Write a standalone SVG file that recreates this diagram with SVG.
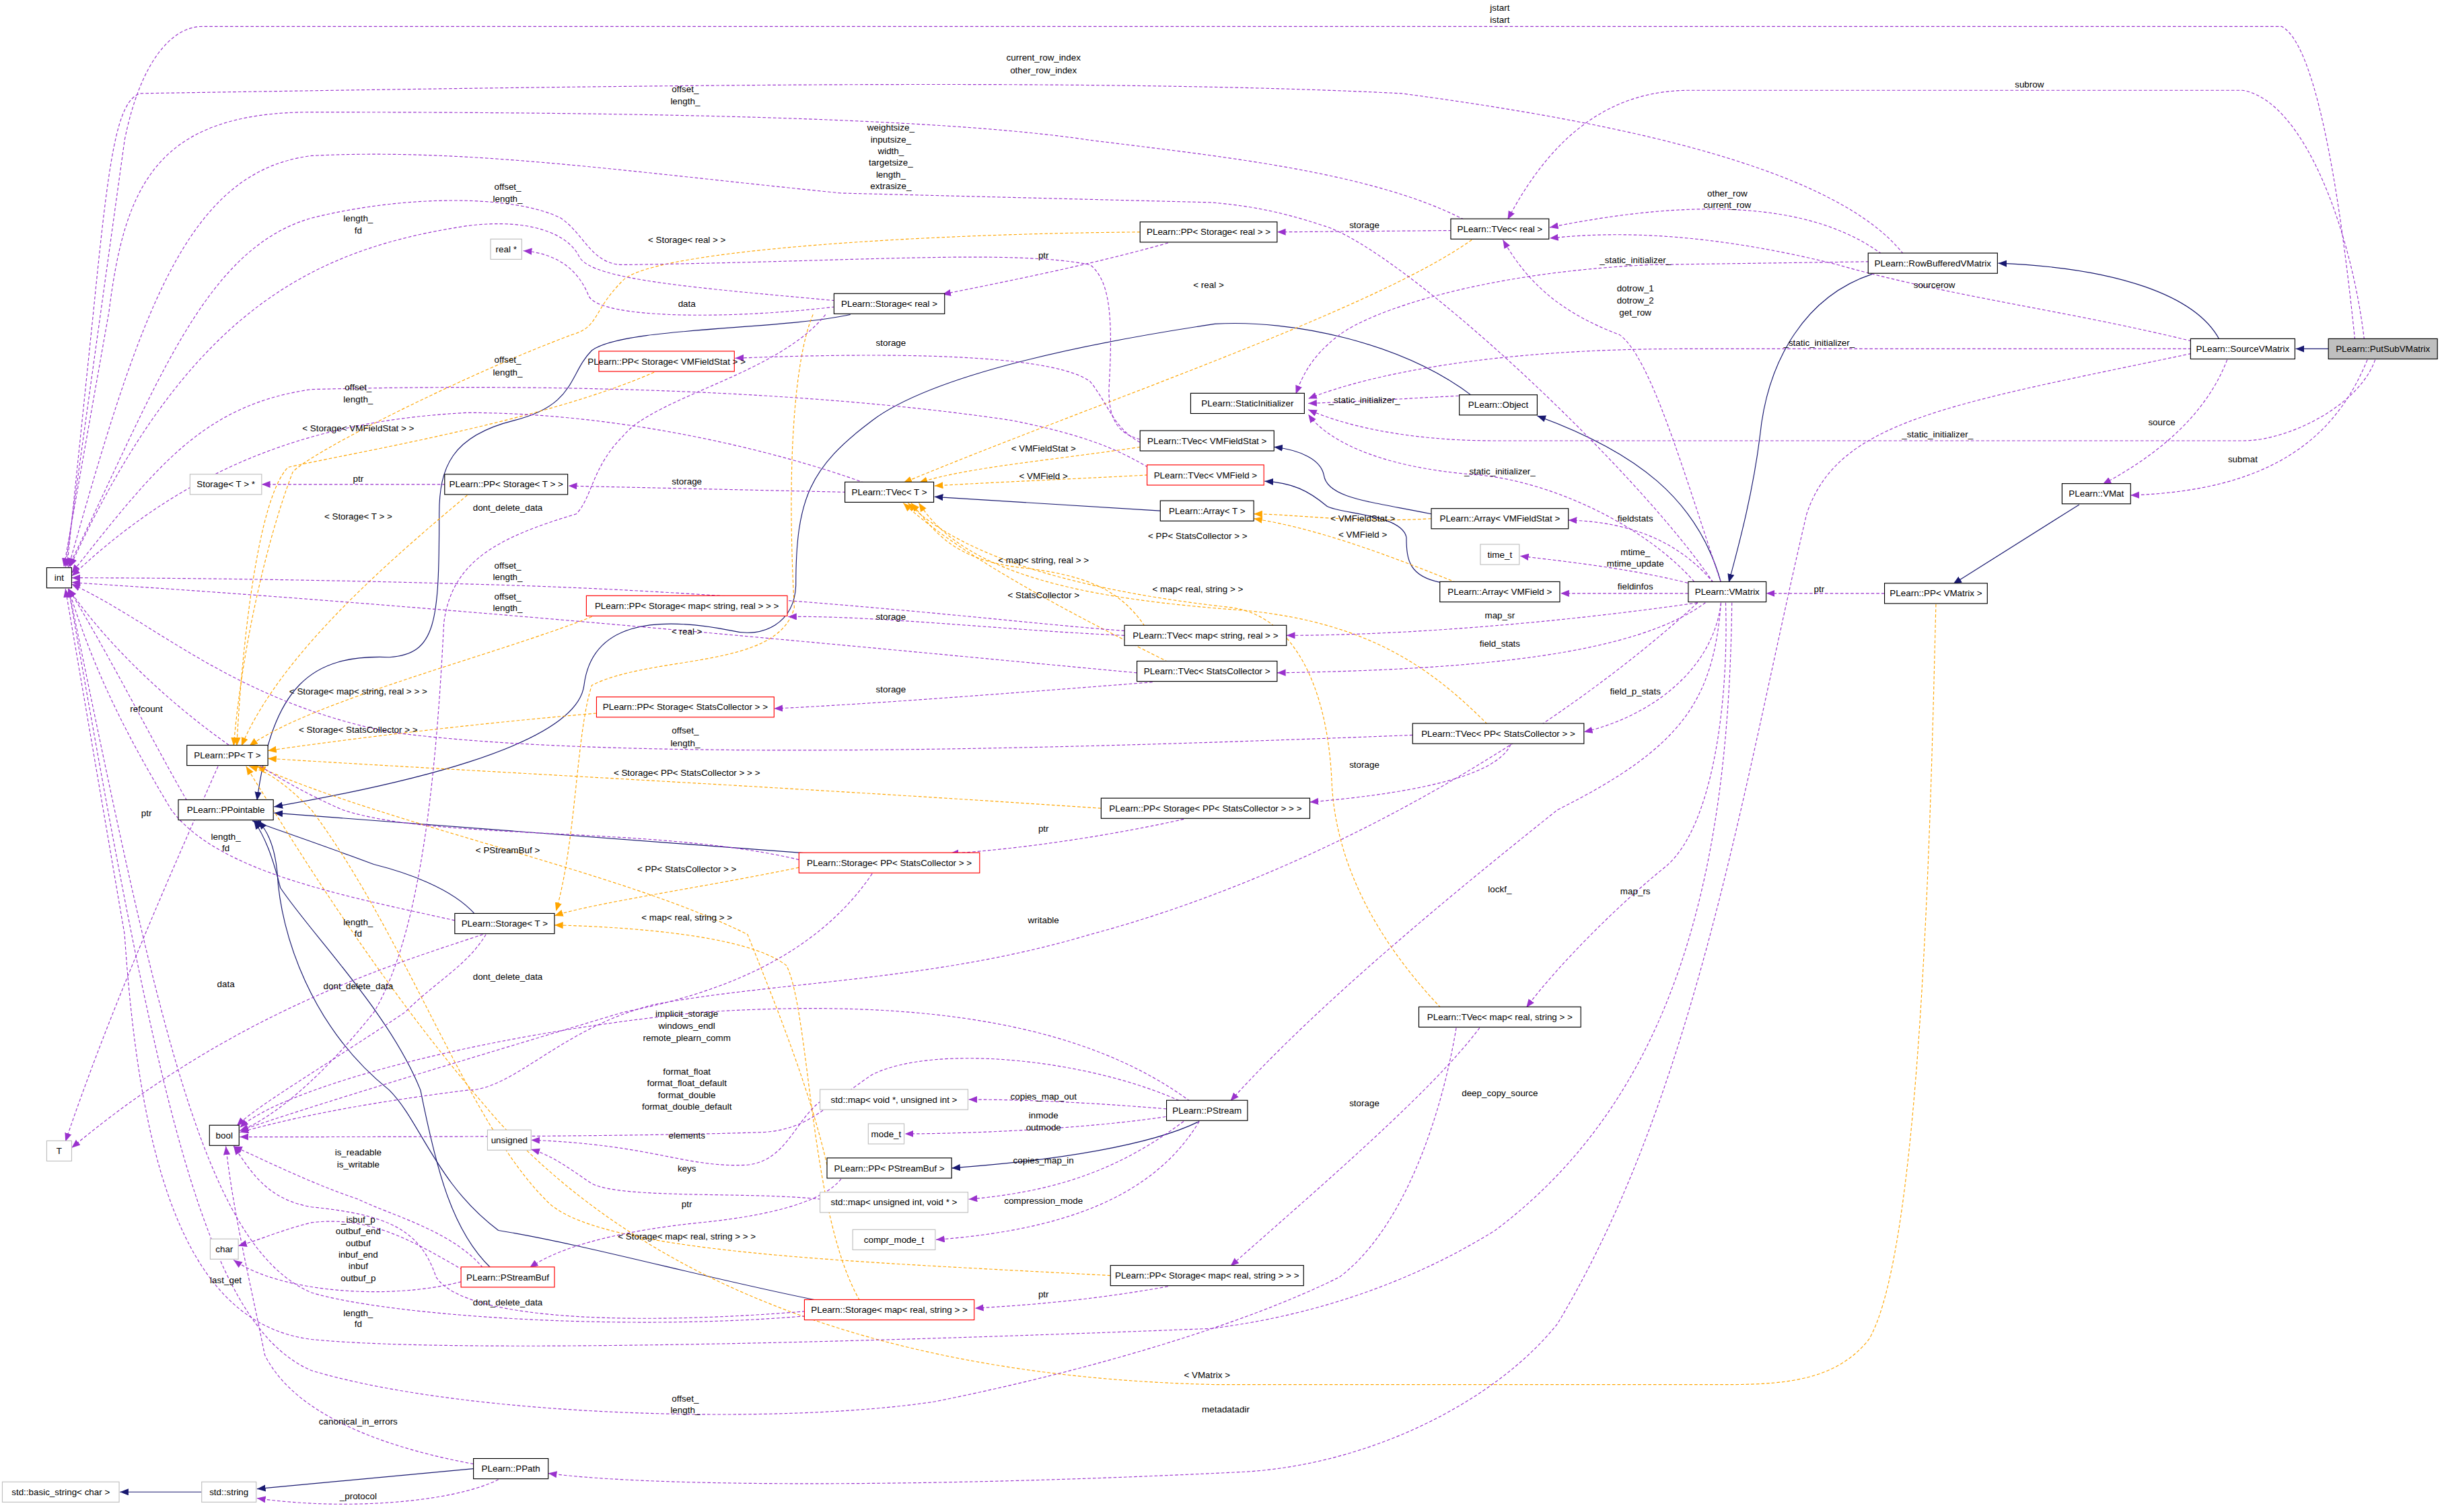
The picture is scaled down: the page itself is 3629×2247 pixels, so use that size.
<svg xmlns="http://www.w3.org/2000/svg" width="3629" height="2247" viewBox="0 0 3629 2247">
<style>
.n rect{fill:#fff;stroke:#000;stroke-width:0.5}
.r rect{stroke:#ff0000}
.g rect{stroke:#bfbfbf}
.s rect{fill:#bfbfbf}
text{font-family:"Liberation Sans Narrow","Liberation Sans",Arial,sans-serif;font-size:5.8px;text-anchor:middle;fill:#000}
.e path{fill:none;stroke-width:0.5}
.m{stroke:#9a32cd;stroke-dasharray:2,1.3;marker-end:url(#am)}
.i{stroke:#191970;marker-end:url(#ai)}
.t{stroke:#ffa500;stroke-dasharray:2,1.3;marker-end:url(#at)}
</style>
<defs>
<marker id="am" markerUnits="userSpaceOnUse" markerWidth="6" markerHeight="5" refX="5.5" refY="2.2" orient="auto"><path d="M0,0 L5.5,2.2 L0,4.4z" fill="#9a32cd"/></marker>
<marker id="ai" markerUnits="userSpaceOnUse" markerWidth="6" markerHeight="5" refX="5.5" refY="2.2" orient="auto"><path d="M0,0 L5.5,2.2 L0,4.4z" fill="#191970"/></marker>
<marker id="at" markerUnits="userSpaceOnUse" markerWidth="6" markerHeight="5" refX="5.5" refY="2.2" orient="auto"><path d="M0,0 L5.5,2.2 L0,4.4z" fill="#ffa500"/></marker>
</defs>
<rect width="3629" height="2247" fill="#fff"/>
<g transform="scale(2.3145)">
<g id="connectors" class="e">
<!-- inheritance -->
<path class="i" d="M1495,224 L1474,224"/>
<path class="i" d="M1425,218 C1410,190 1360,172 1283,169"/>
<path class="i" d="M1202,176 C1160,190 1135,230 1130,280 C1125,320 1115,355 1110,374"/>
<path class="i" d="M1105,374 C1090,320 1050,290 987,267"/>
<path class="i" d="M945,254 C900,220 830,205 780,208 C700,220 600,240 560,270 C520,300 511,320 511,376 C510,400 490,410 470,405 C420,395 380,400 375,440 C370,480 250,505 176,518"/>
<path class="i" d="M546,202 C500,212 400,210 380,225 C365,240 370,260 330,270 C290,280 282,300 282,330 C282,400 280,420 250,422 C200,420 175,440 165,514"/>
<path class="i" d="M305,587 C290,570 260,560 240,555 C200,540 170,530 162,527"/>
<path class="i" d="M520,548 L176,522"/>
<path class="i" d="M525,835 C450,820 380,800 320,790 C280,760 270,720 250,700 C200,660 180,600 178,560 C176,540 170,532 166,527"/>
<path class="i" d="M315,814 C290,790 280,750 270,700 C250,650 200,600 180,570 C175,550 170,537 163,527"/>
<path class="i" d="M1335,324 L1254,375"/>
<path class="i" d="M770,720 C740,735 680,745 611,750"/>
<path class="i" d="M304,943 L165,956"/>
<path class="i" d="M130,958 L77,958"/>
<path class="i" d="M745,328 L600,319"/>
<path class="i" d="M919,330 C880,322 852,320 850,305 C848,295 835,289 818,287"/>
<path class="i" d="M925,374 C905,370 903,360 903,345 C900,330 860,330 852,325 C840,315 830,310 812,309"/>
<!-- templates -->
<path class="t" d="M732,149 C600,150 420,160 400,180 C380,200 385,210 367,215 C300,240 200,290 188,303 C170,350 155,420 150,479"/>
<path class="t" d="M945,154 C880,200 700,260 580,310"/>
<path class="t" d="M420,239 C350,270 230,290 185,300 C165,320 155,420 152,479"/>
<path class="t" d="M732,287 C680,295 620,300 590,310"/>
<path class="t" d="M737,305 C680,308 630,310 600,312"/>
<path class="t" d="M300,318 C250,360 180,420 155,479"/>
<path class="t" d="M919,333 C870,336 830,330 805,330"/>
<path class="t" d="M935,374 C900,360 850,340 805,333"/>
<path class="t" d="M955,465 C920,430 880,400 800,392 C700,385 620,370 590,323"/>
<path class="t" d="M735,402 C720,380 700,370 660,365 C610,360 600,340 585,323"/>
<path class="t" d="M750,425 C700,400 620,360 580,323"/>
<path class="t" d="M925,647 C890,610 857,560 855,500 C852,440 830,395 790,390 C700,380 620,360 583,323"/>
<path class="t" d="M380,396 C320,420 200,450 160,479"/>
<path class="t" d="M383,458 C300,465 220,475 172,482"/>
<path class="t" d="M707,519 C500,505 300,495 172,487"/>
<path class="t" d="M531,748 C520,700 500,650 480,600 C400,560 250,530 165,492"/>
<path class="t" d="M513,557 C450,570 380,580 356,588"/>
<path class="t" d="M522,202 C510,230 505,300 510,390 C500,430 420,420 380,440 C370,470 370,540 357,585"/>
<path class="t" d="M552,835 C520,780 520,650 505,620 C480,600 400,595 356,594"/>
<path class="t" d="M713,819 C550,810 380,805 350,770 C300,720 260,600 200,520 C180,500 170,495 160,492"/>
<path class="t" d="M1243,388 C1240,500 1235,800 1200,860 C1180,885 1150,889 1110,889 L780,889 C600,885 430,840 320,720 C250,640 200,560 158,492"/>
<!-- members -->
<path class="m" d="M1512,218 C1505,150 1490,30 1465,17 L130,17 C110,17 90,40 80,90 L42,364"/>
<path class="m" d="M1518,218 C1510,150 1480,65 1440,58 L1085,58 C1040,58 1000,80 968,141"/>
<path class="m" d="M1525,231 C1515,260 1470,283 1440,283 L960,283 C900,283 860,272 840,263"/>
<path class="m" d="M1520,231 C1500,280 1460,315 1368,318"/>
<path class="m" d="M1407,219 C1330,200 1250,190 1180,170 C1100,150 1040,148 995,153"/>
<path class="m" d="M1407,224 L1080,224 C960,224 880,240 840,256"/>
<path class="m" d="M1430,231 C1415,270 1380,295 1350,311"/>
<path class="m" d="M1407,227 C1250,260 1180,270 1160,330 C1120,500 1090,700 1000,850 C960,900 880,940 800,945 C600,955 420,955 352,946"/>
<path class="m" d="M1208,163 C1150,120 1050,135 995,146"/>
<path class="m" d="M1222,163 C1180,110 1050,80 900,60 C700,50 400,55 90,60 C75,65 70,100 60,200 L43,364"/>
<path class="m" d="M1200,168 L1060,170 C950,175 880,200 860,215 C840,230 835,245 832,253"/>
<path class="m" d="M932,148 L820,149"/>
<path class="m" d="M940,141 C880,110 780,100 700,90 C600,75 400,72 200,72 C100,72 80,120 70,200 L41,364"/>
<path class="m" d="M1100,374 C1050,300 900,160 850,145 C820,135 800,132 778,130 L540,124 C400,110 300,95 200,100 C120,110 90,200 44,364"/>
<path class="m" d="M1105,374 C1080,300 1060,230 1040,215 C1000,200 980,180 965,154"/>
<path class="m" d="M750,156 C700,170 650,180 605,189"/>
<path class="m" d="M536,197 C470,205 385,205 378,190 C372,175 360,163 336,161"/>
<path class="m" d="M536,193 C450,185 380,180 372,165 C365,150 340,140 300,145 C200,160 120,200 45,364"/>
<path class="m" d="M530,202 C500,240 420,255 400,280 C380,300 380,320 370,330 C320,345 290,360 285,400 C280,500 270,600 240,650 C200,700 170,720 154,726"/>
<path class="m" d="M940,254 C900,256 870,258 840,259"/>
<path class="m" d="M1090,376 C1060,340 1000,310 950,305 C880,300 850,280 840,266"/>
<path class="m" d="M732,282 C715,278 712,265 712,250 C715,200 712,180 700,170 C650,160 550,168 400,170 C380,170 375,150 360,140 C330,125 260,125 200,140 C130,160 100,250 44,364"/>
<path class="m" d="M732,284 C715,275 712,260 700,245 C680,230 600,225 472,230"/>
<path class="m" d="M737,300 C720,290 700,280 650,270 C550,255 400,245 200,250 C130,260 100,300 46,368"/>
<path class="m" d="M555,310 C500,290 400,265 300,265 C200,270 120,300 46,370"/>
<path class="m" d="M543,316 L365,312"/>
<path class="m" d="M286,311 L168,311"/>
<path class="m" d="M1100,374 C1080,350 1050,335 1007,334"/>
<path class="m" d="M1090,376 C1050,365 1000,360 976,357"/>
<path class="m" d="M1084,381 L1002,381"/>
<path class="m" d="M1090,387 C1000,400 900,408 826,408"/>
<path class="m" d="M1095,387 C1050,420 950,430 820,432"/>
<path class="m" d="M1105,387 C1100,430 1060,460 1017,470"/>
<path class="m" d="M1105,387 C1100,450 1080,480 1000,520 C950,560 850,640 790,707"/>
<path class="m" d="M1108,387 C1110,450 1100,530 1070,556 C1040,580 1000,620 980,647"/>
<path class="m" d="M1090,387 C1000,470 850,560 700,600 C600,630 500,630 420,645 C360,660 330,700 300,700 C220,710 180,720 154,727"/>
<path class="m" d="M1112,387 C1110,550 1080,700 960,790 C880,840 800,850 778,853 C600,860 300,870 200,860 C120,850 90,750 80,600 L42,378"/>
<path class="m" d="M1210,381 L1134,381"/>
<path class="m" d="M722,408 C650,405 560,395 506,396"/>
<path class="m" d="M722,405 C650,400 500,380 300,375 C200,372 100,371 46,371"/>
<path class="m" d="M730,432 C600,420 300,390 46,374"/>
<path class="m" d="M740,438 C650,445 560,452 497,455"/>
<path class="m" d="M970,478 C960,500 900,510 841,515"/>
<path class="m" d="M907,472 C700,480 400,490 250,470 C150,450 100,400 46,375"/>
<path class="m" d="M760,526 C720,535 660,545 610,548"/>
<path class="m" d="M140,492 C110,560 70,650 42,733"/>
<path class="m" d="M120,514 C100,480 70,420 44,378"/>
<path class="m" d="M310,600 C250,620 150,650 46,737"/>
<path class="m" d="M292,591 C220,575 140,560 110,520 C80,470 60,430 44,378"/>
<path class="m" d="M312,600 C300,620 280,630 260,650 C200,690 165,710 152,723"/>
<path class="m" d="M513,552 C420,530 280,540 220,520 C150,490 80,430 44,378"/>
<path class="m" d="M560,561 C520,620 450,640 400,650 C300,680 200,710 154,726"/>
<path class="m" d="M764,707 C700,660 600,640 450,650 C300,665 180,700 154,724"/>
<path class="m" d="M760,708 C700,680 600,670 560,690 C530,710 520,725 490,727 C400,730 250,730 154,730"/>
<path class="m" d="M749,712 C700,708 660,706 622,706"/>
<path class="m" d="M755,716 C700,725 620,728 581,728"/>
<path class="m" d="M760,720 C720,750 680,765 622,770"/>
<path class="m" d="M770,720 C740,770 680,790 601,796"/>
<path class="m" d="M527,707 C510,720 505,745 480,748 C440,750 420,735 341,732"/>
<path class="m" d="M527,770 C480,765 400,770 380,760 C365,750 355,742 341,738"/>
<path class="m" d="M540,757 C530,770 500,780 450,785 C400,790 360,800 340,814"/>
<path class="m" d="M310,814 C290,790 250,780 230,770 C200,760 170,745 150,736"/>
<path class="m" d="M300,817 C270,800 240,780 200,785 C180,790 170,795 153,800"/>
<path class="m" d="M296,823 C250,835 180,830 150,809"/>
<path class="m" d="M750,826 C700,835 660,838 626,840"/>
<path class="m" d="M517,842 C420,850 300,850 280,820 C270,790 250,780 200,775 C170,770 160,750 150,736"/>
<path class="m" d="M517,845 C400,855 250,845 200,830 C130,800 100,650 44,378"/>
<path class="m" d="M950,660 C920,700 850,760 790,813"/>
<path class="m" d="M935,660 C925,720 900,790 860,820 C800,850 700,880 600,900 C500,915 300,910 200,880 C130,850 100,700 44,378"/>
<path class="m" d="M304,940 C250,930 190,910 170,870 C160,820 150,780 145,736"/>
<path class="m" d="M320,950 C290,965 220,970 165,962"/>
</g>
<g id="labels">
<text x="963" y="7">jstart</text><text x="963" y="14.5">istart</text>
<text x="1303" y="56">subrow</text>
<text x="670" y="39">current_row_index</text><text x="670" y="47">other_row_index</text>
<text x="440" y="59">offset_</text><text x="440" y="67">length_</text>
<text x="572" y="84">weightsize_</text><text x="572" y="91.5">inputsize_</text><text x="572" y="99">width_</text><text x="572" y="106.5">targetsize_</text><text x="572" y="114">length_</text><text x="572" y="121.5">extrasize_</text>
<text x="326" y="122">offset_</text><text x="326" y="129.5">length_</text>
<text x="1109" y="126">other_row</text><text x="1109" y="133.5">current_row</text>
<text x="230" y="142">length_</text><text x="230" y="150">fd</text>
<text x="876" y="146.5">storage</text>
<text x="441" y="156">&lt; Storage&lt; real &gt; &gt;</text>
<text x="670" y="166">ptr</text>
<text x="1050" y="169">_static_initializer_</text>
<text x="1242" y="185">sourcerow</text>
<text x="776" y="185">&lt; real &gt;</text>
<text x="1050" y="187">dotrow_1</text><text x="1050" y="195">dotrow_2</text><text x="1050" y="202.5">get_row</text>
<text x="441" y="197">data</text>
<text x="572" y="222">storage</text>
<text x="1168" y="222">_static_initializer_</text>
<text x="326" y="233">offset_</text><text x="326" y="241">length_</text>
<text x="230" y="250.5">offset_</text><text x="230" y="258.5">length_</text>
<text x="876" y="259">_static_initializer_</text>
<text x="1388" y="273">source</text>
<text x="230" y="277">&lt; Storage&lt; VMFieldStat &gt; &gt;</text>
<text x="1244" y="281">_static_initializer_</text>
<text x="670" y="290">&lt; VMFieldStat &gt;</text>
<text x="1440" y="297">submat</text>
<text x="963" y="304.5">_static_initializer_</text>
<text x="670" y="307.5">&lt; VMField &gt;</text>
<text x="230" y="309.5">ptr</text>
<text x="441" y="311">storage</text>
<text x="326" y="328">dont_delete_data</text>
<text x="230" y="333.5">&lt; Storage&lt; T &gt; &gt;</text>
<text x="875" y="335">&lt; VMFieldStat &gt;</text>
<text x="1050" y="335">fieldstats</text>
<text x="875" y="345">&lt; VMField &gt;</text>
<text x="769" y="346">&lt; PP&lt; StatsCollector &gt; &gt;</text>
<text x="1050" y="356.5">mtime_</text><text x="1050" y="364">mtime_update</text>
<text x="670" y="361.5">&lt; map&lt; string, real &gt; &gt;</text>
<text x="326" y="365">offset_</text><text x="326" y="372.5">length_</text>
<text x="1050" y="378.5">fieldinfos</text>
<text x="1168" y="380">ptr</text>
<text x="769" y="380">&lt; map&lt; real, string &gt; &gt;</text>
<text x="670" y="384">&lt; StatsCollector &gt;</text>
<text x="326" y="385">offset_</text><text x="326" y="392.5">length_</text>
<text x="963" y="397">map_sr</text>
<text x="572" y="398">storage</text>
<text x="441" y="407.5">&lt; real &gt;</text>
<text x="963" y="415">field_stats</text>
<text x="572" y="444.5">storage</text>
<text x="1050" y="446">field_p_stats</text>
<text x="230" y="446">&lt; Storage&lt; map&lt; string, real &gt; &gt; &gt;</text>
<text x="94" y="457">refcount</text>
<text x="230" y="470.5">&lt; Storage&lt; StatsCollector &gt; &gt;</text>
<text x="440" y="471">offset_</text><text x="440" y="479">length_</text>
<text x="876" y="493">storage</text>
<text x="441" y="498">&lt; Storage&lt; PP&lt; StatsCollector &gt; &gt; &gt;</text>
<text x="94" y="524">ptr</text>
<text x="670" y="534">ptr</text>
<text x="145" y="539">length_</text><text x="145" y="546.5">fd</text>
<text x="326" y="548">&lt; PStreamBuf &gt;</text>
<text x="441" y="560">&lt; PP&lt; StatsCollector &gt; &gt;</text>
<text x="963" y="573">lockf_</text>
<text x="1050" y="574">map_rs</text>
<text x="441" y="591">&lt; map&lt; real, string &gt; &gt;</text>
<text x="230" y="594">length_</text><text x="230" y="601.5">fd</text>
<text x="670" y="593">writable</text>
<text x="326" y="629">dont_delete_data</text>
<text x="145" y="634">data</text>
<text x="230" y="635">dont_delete_data</text>
<text x="441" y="653">implicit_storage</text><text x="441" y="660.5">windows_endl</text><text x="441" y="668.5">remote_plearn_comm</text>
<text x="441" y="690">format_float</text><text x="441" y="697.5">format_float_default</text><text x="441" y="705">format_double</text><text x="441" y="712.5">format_double_default</text>
<text x="963" y="704">deep_copy_source</text>
<text x="670" y="706">copies_map_out</text>
<text x="876" y="710.5">storage</text>
<text x="670" y="718">inmode</text><text x="670" y="726">outmode</text>
<text x="441" y="731">elements</text>
<text x="230" y="742">is_readable</text><text x="230" y="749.5">is_writable</text>
<text x="670" y="747">copies_map_in</text>
<text x="441" y="752">keys</text>
<text x="670" y="773">compression_mode</text>
<text x="441" y="775">ptr</text>
<text x="230" y="785">_isbuf_p</text><text x="230" y="792.5">outbuf_end</text><text x="230" y="800">outbuf</text><text x="230" y="807.5">inbuf_end</text><text x="230" y="815">inbuf</text><text x="230" y="822.5">outbuf_p</text>
<text x="441" y="796">&lt; Storage&lt; map&lt; real, string &gt; &gt; &gt;</text>
<text x="145" y="824">last_get</text>
<text x="670" y="833">ptr</text>
<text x="326" y="838">dont_delete_data</text>
<text x="230" y="845">length_</text><text x="230" y="852">fd</text>
<text x="775" y="885">&lt; VMatrix &gt;</text>
<text x="440" y="900">offset_</text><text x="440" y="907.5">length_</text>
<text x="787" y="907">metadatadir</text>
<text x="230" y="914.5">canonical_in_errors</text>
<text x="230" y="962.5">_protocol</text>
</g>
<g id="PutSubVMatrix" class="n s"><rect x="1495" y="217.5" width="70" height="13"/><text x="1530" y="226">PLearn::PutSubVMatrix</text></g>
<g id="SourceVMatrix" class="n"><rect x="1406.5" y="217.5" width="67" height="13"/><text x="1440" y="226">PLearn::SourceVMatrix</text></g>
<g id="RowBufferedVMatrix" class="n"><rect x="1199.5" y="162.5" width="83" height="13"/><text x="1241" y="171">PLearn::RowBufferedVMatrix</text></g>
<g id="TVecReal" class="n"><rect x="931.5" y="140.5" width="63" height="13"/><text x="963" y="149">PLearn::TVec&lt; real &gt;</text></g>
<g id="PPStorageReal" class="n"><rect x="732" y="142.5" width="88" height="13"/><text x="776" y="151">PLearn::PP&lt; Storage&lt; real &gt; &gt;</text></g>
<g id="StorageReal" class="n"><rect x="535.5" y="188.5" width="71" height="13"/><text x="571" y="197">PLearn::Storage&lt; real &gt;</text></g>
<g id="realStar" class="n g"><rect x="315" y="153.5" width="20" height="13"/><text x="325" y="162">real *</text></g>
<g id="PPStorageVMFieldStat" class="n r"><rect x="384.5" y="225.5" width="87" height="13"/><text x="428" y="234">PLearn::PP&lt; Storage&lt; VMFieldStat &gt; &gt;</text></g>
<g id="StaticInitializer" class="n"><rect x="764.5" y="252.5" width="73" height="13"/><text x="801" y="261">PLearn::StaticInitializer</text></g>
<g id="Object" class="n"><rect x="937" y="253.5" width="50" height="13"/><text x="962" y="262">PLearn::Object</text></g>
<g id="TVecVMFieldStat" class="n"><rect x="732" y="276.5" width="86" height="13"/><text x="775" y="285">PLearn::TVec&lt; VMFieldStat &gt;</text></g>
<g id="TVecVMField" class="n r"><rect x="736.5" y="298.5" width="75" height="13"/><text x="774" y="307">PLearn::TVec&lt; VMField &gt;</text></g>
<g id="TVecT" class="n"><rect x="542.5" y="309.5" width="57" height="13"/><text x="571" y="318">PLearn::TVec&lt; T &gt;</text></g>
<g id="PPStorageT" class="n"><rect x="285.5" y="304.5" width="79" height="13"/><text x="325" y="313">PLearn::PP&lt; Storage&lt; T &gt; &gt;</text></g>
<g id="StorageTStar" class="n g"><rect x="122" y="304.5" width="46" height="13"/><text x="145" y="313">Storage&lt; T &gt; *</text></g>
<g id="ArrayT" class="n"><rect x="745" y="321.5" width="60" height="13"/><text x="775" y="330">PLearn::Array&lt; T &gt;</text></g>
<g id="ArrayVMFieldStat" class="n"><rect x="919" y="326.5" width="88" height="13"/><text x="963" y="335">PLearn::Array&lt; VMFieldStat &gt;</text></g>
<g id="time_t" class="n g"><rect x="950.5" y="349.5" width="25" height="13"/><text x="963" y="358">time_t</text></g>
<g id="ArrayVMField" class="n"><rect x="924.5" y="373.5" width="77" height="13"/><text x="963" y="382">PLearn::Array&lt; VMField &gt;</text></g>
<g id="VMatrix" class="n"><rect x="1084" y="373.5" width="50" height="13"/><text x="1109" y="382">PLearn::VMatrix</text></g>
<g id="VMat" class="n"><rect x="1324" y="310.5" width="44" height="13"/><text x="1346" y="319">PLearn::VMat</text></g>
<g id="PPVMatrix" class="n"><rect x="1210" y="374.5" width="66" height="13"/><text x="1243" y="383">PLearn::PP&lt; VMatrix &gt;</text></g>
<g id="int" class="n"><rect x="30" y="364.5" width="16" height="13"/><text x="38" y="373">int</text></g>
<g id="PPStorageMapSR" class="n r"><rect x="376.5" y="382.5" width="129" height="13"/><text x="441" y="391">PLearn::PP&lt; Storage&lt; map&lt; string, real &gt; &gt; &gt;</text></g>
<g id="TVecMapSR" class="n"><rect x="722" y="401.5" width="104" height="13"/><text x="774" y="410">PLearn::TVec&lt; map&lt; string, real &gt; &gt;</text></g>
<g id="TVecStatsCollector" class="n"><rect x="730" y="424.5" width="90" height="13"/><text x="775" y="433">PLearn::TVec&lt; StatsCollector &gt;</text></g>
<g id="PPStorageStatsCollector" class="n r"><rect x="383" y="447.5" width="114" height="13"/><text x="440" y="456">PLearn::PP&lt; Storage&lt; StatsCollector &gt; &gt;</text></g>
<g id="TVecPPStatsCollector" class="n"><rect x="907" y="464.5" width="110" height="13"/><text x="962" y="473">PLearn::TVec&lt; PP&lt; StatsCollector &gt; &gt;</text></g>
<g id="PPT" class="n"><rect x="120" y="478.5" width="52" height="13"/><text x="146" y="487">PLearn::PP&lt; T &gt;</text></g>
<g id="PPointable" class="n"><rect x="114.5" y="513.5" width="61" height="13"/><text x="145" y="522">PLearn::PPointable</text></g>
<g id="PPStoragePPStatsCollector" class="n"><rect x="707" y="512.5" width="134" height="13"/><text x="774" y="521">PLearn::PP&lt; Storage&lt; PP&lt; StatsCollector &gt; &gt; &gt;</text></g>
<g id="StoragePPStatsCollector" class="n r"><rect x="513" y="547.5" width="116" height="13"/><text x="571" y="556">PLearn::Storage&lt; PP&lt; StatsCollector &gt; &gt;</text></g>
<g id="StorageT" class="n"><rect x="292" y="586.5" width="64" height="13"/><text x="324" y="595">PLearn::Storage&lt; T &gt;</text></g>
<g id="TVecMapRS" class="n"><rect x="911" y="646.5" width="104" height="13"/><text x="963" y="655">PLearn::TVec&lt; map&lt; real, string &gt; &gt;</text></g>
<g id="PStream" class="n"><rect x="749" y="706.5" width="52" height="13"/><text x="775" y="715">PLearn::PStream</text></g>
<g id="mapVoid" class="n g"><rect x="526.5" y="699.5" width="95" height="13"/><text x="574" y="708">std::map&lt; void *, unsigned int &gt;</text></g>
<g id="mode_t" class="n g"><rect x="557.5" y="721.5" width="23" height="13"/><text x="569" y="730">mode_t</text></g>
<g id="unsigned" class="n g"><rect x="313" y="725.5" width="28" height="13"/><text x="327" y="734">unsigned</text></g>
<g id="bool" class="n"><rect x="134.5" y="722.5" width="19" height="13"/><text x="144" y="731">bool</text></g>
<g id="PPPStreamBuf" class="n"><rect x="531" y="743.5" width="80" height="13"/><text x="571" y="752">PLearn::PP&lt; PStreamBuf &gt;</text></g>
<g id="mapUint" class="n g"><rect x="526.5" y="765.5" width="95" height="13"/><text x="574" y="774">std::map&lt; unsigned int, void * &gt;</text></g>
<g id="compr_mode_t" class="n g"><rect x="547.5" y="789.5" width="53" height="13"/><text x="574" y="798">compr_mode_t</text></g>
<g id="T" class="n g"><rect x="30" y="732.5" width="16" height="13"/><text x="38" y="741">T</text></g>
<g id="char" class="n g"><rect x="135" y="795.5" width="18" height="13"/><text x="144" y="804">char</text></g>
<g id="PStreamBuf" class="n r"><rect x="296" y="813.5" width="60" height="13"/><text x="326" y="822">PLearn::PStreamBuf</text></g>
<g id="PPStorageMapRS" class="n"><rect x="713" y="812.5" width="124" height="13"/><text x="775" y="821">PLearn::PP&lt; Storage&lt; map&lt; real, string &gt; &gt; &gt;</text></g>
<g id="StorageMapRS" class="n r"><rect x="516.5" y="834.5" width="109" height="13"/><text x="571" y="843">PLearn::Storage&lt; map&lt; real, string &gt; &gt;</text></g>
<g id="PPath" class="n"><rect x="304" y="936.5" width="48" height="13"/><text x="328" y="945">PLearn::PPath</text></g>
<g id="stdstring" class="n g"><rect x="129.5" y="951.5" width="35" height="13"/><text x="147" y="960">std::string</text></g>
<g id="basicstring" class="n g"><rect x="1.5" y="951.5" width="75" height="13"/><text x="39" y="960">std::basic_string&lt; char &gt;</text></g>
</g>
</svg>
